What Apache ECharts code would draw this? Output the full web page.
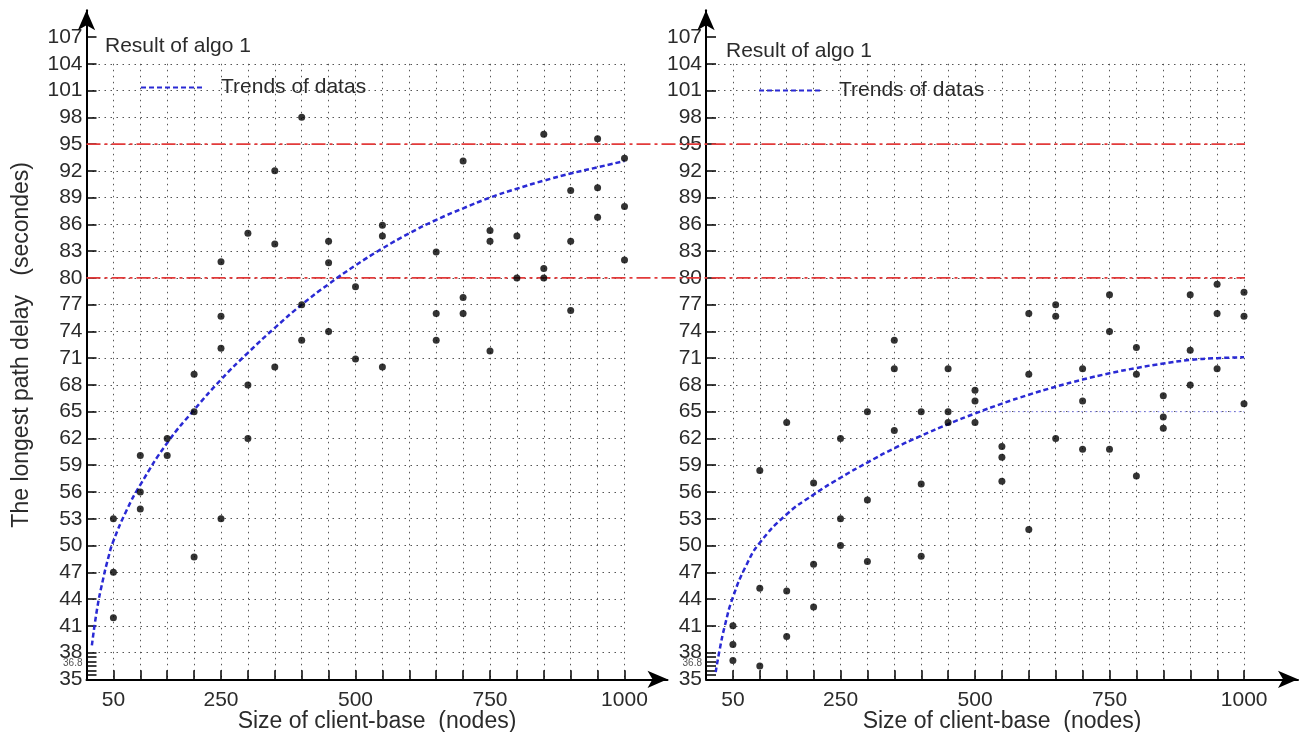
<!DOCTYPE html>
<html>
<head>
<meta charset="utf-8">
<title>The longest path delay</title>
<script src="https://cdn.jsdelivr.net/npm/echarts@6/dist/echarts.min.js"></script>
<style>
  html, body { margin: 0; padding: 0; background: #ffffff; }
  #chart { width: 1309px; height: 732px; }
</style>
</head>
<body>
<div id="chart"></div>
<script>
// ---------- data ----------
const xTickValues = [50, 100, 150, 200, 250, 300, 350, 400, 450, 500, 550, 600, 650, 700, 750, 800, 850, 900, 950, 1000];
const xLabelValues = [50, 250, 500, 750, 1000];
const yLabelValues = [35, 38, 41, 44, 47, 50, 53, 56, 59, 62, 65, 68, 71, 74, 77, 80, 83, 86, 89, 92, 95, 98, 101, 104, 107];
const yMinorTicks = [35.5, 36, 36.5, 37, 37.5];
const smallYLabel = 36.8;
const thresholds = [95, 80];

const leftPoints = [
  [50, 53], [50, 47], [50, 41.9],
  [100, 60.1], [100, 56], [100, 54.1],
  [150, 62], [150, 60.1],
  [200, 69.2], [200, 65], [200, 48.7],
  [250, 81.8], [250, 75.7], [250, 72.1], [250, 53],
  [300, 85], [300, 68], [300, 62],
  [350, 92], [350, 83.8], [350, 70],
  [400, 98], [400, 77], [400, 73],
  [450, 84.1], [450, 81.7], [450, 74],
  [500, 79], [500, 70.9],
  [550, 85.9], [550, 84.7], [550, 70],
  [650, 82.9], [650, 76], [650, 73],
  [700, 93.1], [700, 77.8], [700, 76],
  [750, 85.3], [750, 84.1], [750, 71.8],
  [800, 84.7], [800, 80],
  [850, 96.1], [850, 81.05], [850, 80],
  [900, 89.8], [900, 84.1], [900, 76.35],
  [950, 95.6], [950, 90.1], [950, 86.8],
  [1000, 93.4], [1000, 88], [1000, 82]
];
const leftTrend = [
  [10, 38.8], [20, 43], [30, 46], [40, 48.5], [50, 50.5], [75, 54], [100, 56.8], [150, 61.5],
  [200, 65.2], [250, 68.6], [300, 71.6], [350, 74.4], [400, 77], [450, 79.3], [500, 81.4],
  [550, 83.3], [600, 85], [650, 86.5], [700, 87.8], [750, 89], [800, 90], [850, 90.9],
  [900, 91.7], [950, 92.4], [1000, 93.1]
];

const rightPoints = [
  [50, 41], [50, 38.9], [50, 37.1],
  [100, 58.4], [100, 45.2], [100, 36.5],
  [150, 63.8], [150, 44.9], [150, 39.8],
  [200, 57], [200, 47.9], [200, 43.1],
  [250, 62], [250, 53], [250, 50],
  [300, 65], [300, 55.1], [300, 48.2],
  [350, 73], [350, 69.8], [350, 62.9],
  [400, 65], [400, 56.9], [400, 48.8],
  [450, 69.8], [450, 65], [450, 63.8],
  [500, 67.4], [500, 66.2], [500, 63.8],
  [550, 61.1], [550, 59.9], [550, 57.2],
  [600, 76], [600, 69.2], [600, 51.8],
  [650, 77], [650, 75.7], [650, 62],
  [700, 69.8], [700, 66.2], [700, 60.8],
  [750, 78.1], [750, 74], [750, 60.8],
  [800, 72.2], [800, 69.2], [800, 57.8],
  [850, 66.8], [850, 64.4], [850, 63.15],
  [900, 78.1], [900, 71.9], [900, 68],
  [950, 79.3], [950, 76], [950, 69.8],
  [1000, 78.4], [1000, 75.7], [1000, 65.9]
];
const rightTrend = [
  [18, 35.8], [25, 38.2], [35, 41], [50, 44.2], [75, 47.8], [100, 50.3], [150, 53.5],
  [200, 55.7], [250, 57.6], [300, 59.3], [350, 60.9], [400, 62.3], [450, 63.6], [500, 64.8],
  [550, 65.9], [600, 66.9], [650, 67.8], [700, 68.6], [750, 69.3], [800, 69.9], [850, 70.4],
  [900, 70.8], [950, 71.0], [1000, 71.1]
];
const rightGuide = [[480, 65], [1000, 65]];

// ---------- styling ----------
const FONT = "'Liberation Sans', Arial, Helvetica, sans-serif";
const TXT = '#2b2b2b';
const dotted = { color: '#555', width: 1, type: [1.5, 4.5] };

function frameX(gridIndex, max) {
  return {
    gridIndex: gridIndex, type: 'value', min: 0, max: max,
    axisLine: { show: true, lineStyle: { color: '#000', width: 2 }, symbol: ['none', 'arrow'], symbolSize: [13, 20] },
    axisTick: { show: true, inside: true, length: 9, customValues: xTickValues, lineStyle: { color: '#000', width: 1.5 } },
    axisLabel: { show: true, customValues: xLabelValues, margin: 10, fontSize: 21, color: TXT, fontFamily: FONT, hideOverlap: false,
      formatter: function (v) { return String(v); } },
    splitLine: { show: false },
    name: 'Size of client-base  (nodes)', nameLocation: 'middle', nameGap: 31, nameMoveOverlap: false,
    nameTextStyle: { fontSize: 23, color: TXT, fontFamily: FONT }
  };
}
function frameY(gridIndex, withName) {
  const ax = {
    gridIndex: gridIndex, type: 'value', min: 35, max: 110,
    axisLine: { show: true, lineStyle: { color: '#000', width: 2 }, symbol: ['none', 'arrow'], symbolSize: [13, 20] },
    axisTick: { show: true, inside: true, length: 10, customValues: yLabelValues.concat(yMinorTicks), lineStyle: { color: '#000', width: 1.5 } },
    axisLabel: {
      show: true, customValues: yLabelValues.concat([smallYLabel]), margin: 4, fontSize: 21, color: TXT, fontFamily: FONT, hideOverlap: false,
      formatter: function (v) { return v === smallYLabel ? '{s|' + v + '}' : String(v); },
      rich: { s: { fontSize: 10, color: '#555', fontFamily: FONT } }
    },
    splitLine: { show: false }
  };
  if (withName) {
    ax.name = 'The longest path delay   (secondes)';
    ax.nameLocation = 'middle';
    ax.nameGap = 53;
    ax.nameMoveOverlap = false;
    ax.nameTextStyle = { fontSize: 23, color: TXT, fontFamily: FONT };
  }
  return ax;
}
function plotX(gridIndex) {
  return {
    gridIndex: gridIndex, type: 'value', min: 0, max: 1000, interval: 50,
    axisLine: { show: false }, axisTick: { show: false }, axisLabel: { show: false },
    splitLine: { show: true, lineStyle: dotted }
  };
}
function plotY(gridIndex) {
  return {
    gridIndex: gridIndex, type: 'value', min: 35, max: 104, interval: 3,
    axisLine: { show: false }, axisTick: { show: false }, axisLabel: { show: false },
    splitLine: { show: true, lineStyle: dotted }
  };
}

const trendStyle = { color: '#2a2ad4', width: 2.5, type: [5, 3] };
const legendBase = {
  data: ['Trends of datas'], padding: 0, itemWidth: 63, itemHeight: 14, selectedMode: false,
  itemStyle: { opacity: 0 },
  textStyle: { fontSize: 21, color: TXT, fontFamily: FONT, padding: [0, 0, 0, 12] }
};

const option = {
  animation: false,
  backgroundColor: '#ffffff',
  textStyle: { fontFamily: FONT },
  title: [
    { text: 'Result of algo 1', left: 105, top: 35, padding: 0,
      textStyle: { fontSize: 21, fontWeight: 'normal', color: TXT, fontFamily: FONT, lineHeight: 22 } },
    { text: 'Result of algo 1', left: 726, top: 40, padding: 0,
      textStyle: { fontSize: 21, fontWeight: 'normal', color: TXT, fontFamily: FONT, lineHeight: 22 } }
  ],
  legend: [
    Object.assign({}, legendBase, { left: 140, top: 77 }),
    Object.assign({}, legendBase, { left: 758, top: 80 })
  ],
  grid: [
    { left: 86.5, top: 63.8, width: 538, height: 615.5, outerBoundsMode: 'none' },
    { left: 86.5, top: 10.3, width: 581, height: 669, outerBoundsMode: 'none' },
    { left: 706, top: 63.8, width: 538, height: 615.5, outerBoundsMode: 'none' },
    { left: 706, top: 10.3, width: 592, height: 669, outerBoundsMode: 'none' },
    { left: 86.5, top: 63.8, width: 1158.5, height: 615.5, outerBoundsMode: 'none' }
  ],
  xAxis: [
    plotX(0), frameX(1, 1080), plotX(2), frameX(3, 1100),
    { gridIndex: 4, type: 'value', min: 0, max: 1, show: false }
  ],
  yAxis: [
    plotY(0), frameY(1, true), plotY(2), frameY(3, false),
    { gridIndex: 4, type: 'value', min: 35, max: 104, show: false }
  ],
  series: [
    {
      name: 'Result of algo 1', type: 'scatter', xAxisIndex: 0, yAxisIndex: 0,
      data: leftPoints, symbolSize: 7, itemStyle: { color: '#000' }, z: 5
    },
    {
      name: 'Trends of datas', type: 'line', xAxisIndex: 0, yAxisIndex: 0,
      data: leftTrend, smooth: 0.5, symbol: 'none', lineStyle: trendStyle, itemStyle: { color: '#2a2ad4' }, z: 4
    },
    {
      name: 'Result of algo 1', type: 'scatter', xAxisIndex: 2, yAxisIndex: 2,
      data: rightPoints, symbolSize: 7, itemStyle: { color: '#000' }, z: 5
    },
    {
      name: 'Trends of datas', type: 'line', xAxisIndex: 2, yAxisIndex: 2,
      data: rightTrend, smooth: 0.5, symbol: 'none', lineStyle: trendStyle, itemStyle: { color: '#2a2ad4' }, z: 4
    },
    {
      name: 'guide65', type: 'line', xAxisIndex: 2, yAxisIndex: 2,
      data: rightGuide, symbol: 'none', lineStyle: { color: '#8a8aff', width: 1, type: [1.5, 3] }, z: 3, silent: true
    }
  ].concat(thresholds.map(function (t) {
    return {
      name: 'threshold ' + t, type: 'line', xAxisIndex: 4, yAxisIndex: 4,
      data: [[0, t], [1, t]], symbol: 'none', silent: true, z: 3,
      lineStyle: { color: '#e23a3a', width: 1.6, type: [14, 4, 3, 4] }
    };
  }))
};

const chart = echarts.init(document.getElementById('chart'), null, { renderer: 'canvas' });
chart.setOption(option);
</script>
</body>
</html>
